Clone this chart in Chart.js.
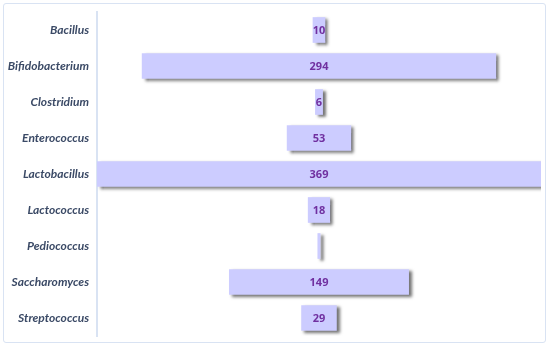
<!DOCTYPE html>
<html>
<head>
<meta charset="utf-8">
<script src="https://cdn.jsdelivr.net/npm/chart.js@4/dist/chart.umd.min.js"></script>
<style>
  body { margin: 0; background: #fff; }
  #wrap {
    position: absolute; left: 3px; top: 3px;
    width: 541px; height: 338px;
    border: 1px solid #d9e3f3; border-radius: 3px;
  }
</style>
</head>
<body>
<div id="wrap"><canvas id="chart"></canvas></div>
<script>
// data
const categories = ['Bacillus', 'Bifidobacterium', 'Clostridium', 'Enterococcus', 'Lactobacillus',
  'Lactococcus', 'Pediococcus', 'Saccharomyces', 'Streptococcus'];
const counts = [10, 294, 6, 53, 369, 18, 2, 149, 29];
const shownLabels = ['10', '294', '6', '53', '369', '18', '', '149', '29'];

// bars centred on zero, like a funnel
const spans = counts.map(v => [-v / 2, v / 2]);
const half = Math.max(...counts) / 2;

// drop shadow under the bars
const shadowPlugin = {
  id: 'shadow',
  beforeDatasetsDraw(chart) {
    const ctx = chart.ctx;
    ctx.save();
    ctx.shadowColor = 'rgba(0,0,0,0.55)';
    ctx.shadowOffsetX = 3;
    ctx.shadowOffsetY = 2;
    ctx.shadowBlur = 3;
  },
  afterDatasetsDraw(chart) {
    chart.ctx.restore();
  }
};

// value text in the middle of each bar
const valuePlugin = {
  id: 'values',
  afterDatasetsDraw(chart) {
    const ctx = chart.ctx;
    const meta = chart.getDatasetMeta(0);
    ctx.save();
    ctx.font = 'bold 11px "Open Sans"';
    ctx.fillStyle = '#7030a0';
    ctx.textAlign = 'center';
    ctx.textBaseline = 'middle';
    meta.data.forEach((bar, i) => {
      const p = bar.getProps(['x', 'y', 'base']);
      ctx.fillText(shownLabels[i], (p.x + p.base) / 2, p.y + 1);
    });
    ctx.restore();
  }
};

new Chart(document.getElementById('chart'), {
  type: 'bar',
  data: {
    labels: categories,
    datasets: [{
      data: spans,
      backgroundColor: '#ccccff',
      borderWidth: 0,
      borderSkipped: false,
      barThickness: 25
    }]
  },
  plugins: [shadowPlugin, valuePlugin],
  options: {
    indexAxis: 'y',
    responsive: true,
    maintainAspectRatio: false,
    animation: false,
    layout: { padding: { top: 8, right: 4, bottom: 6, left: 0 } },
    plugins: { legend: { display: false }, tooltip: { enabled: false } },
    scales: {
      x: { display: false, min: -half, max: half },
      y: {
        grid: { display: false, drawTicks: false },
        border: { color: '#d9e3f3', width: 2 },
        ticks: {
          padding: 8,
          color: '#3b4a66',
          font: { family: 'Lato', size: 12, style: 'italic', weight: 'bold' }
        },
        afterFit(scale) {
          scale.width = 93;
          // no extra room for the first/last label, the layout padding handles it
          scale.paddingTop = 0;
          scale.paddingBottom = 0;
        }
      }
    }
  }
});
</script>
</body>
</html>
